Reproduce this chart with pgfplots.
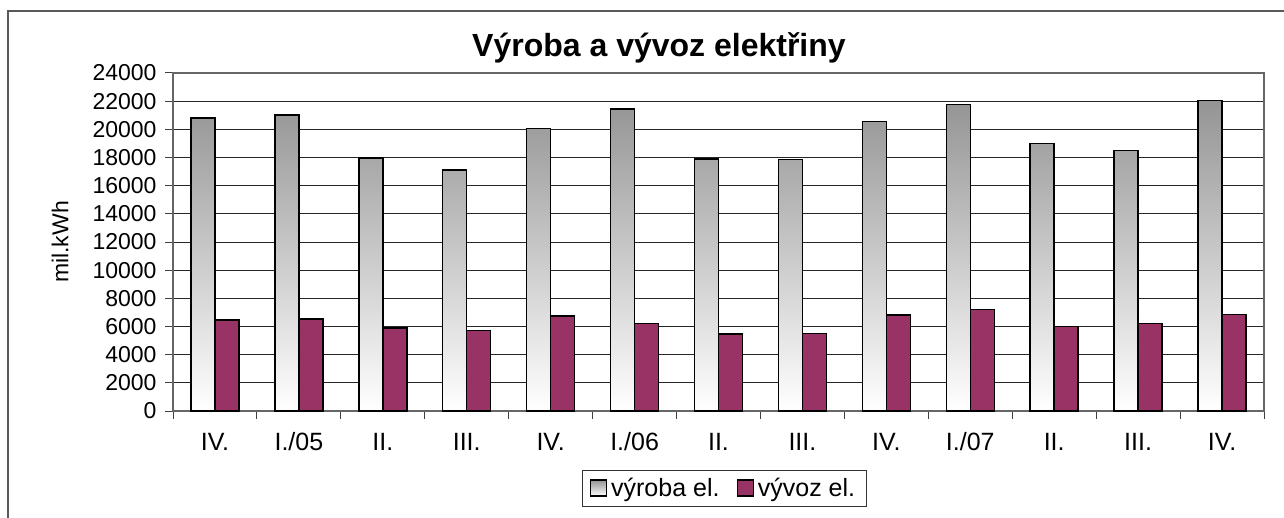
\documentclass[border=0pt]{standalone}
\usepackage{fontspec}
\setmainfont{Liberation Sans}
\usepackage{pgfplots}
\pgfplotsset{compat=1.18}
\definecolor{plum}{HTML}{993366}
\pgfplotstableread{
x vyroba vyvoz
0 20800 6450
1 21000 6550
2 17950 5900
3 17100 5700
4 20050 6750
5 21450 6200
6 17900 5450
7 17850 5500
8 20550 6800
9 21750 7200
10 19000 6000
11 18500 6200
12 22050 6850
}\datatable
\begin{document}
\begin{tikzpicture}[x=1pt,y=1pt]
\useasboundingbox (0,0) rectangle (1284,-518);
\draw[black!65, line width=1.5pt] (8,-11) rectangle (1300,-540);
\node[font=\fontsize{32}{38}\selectfont\bfseries, anchor=base] at (659,-57) {Výroba a vývoz elektřiny};
\begin{axis}[
 at={(173pt,-411pt)}, anchor=south west,
 scale only axis, width=1091pt, height=338pt,
 ymin=0, ymax=24000, ytick={0,2000,...,24000},
 scaled y ticks=false,
 xmin=-0.5, xmax=12.5,
 xtick={-0.5,0.5,1.5,2.5,3.5,4.5,5.5,6.5,7.5,8.5,9.5,10.5,11.5,12.5},
 x tick label as interval,
 xticklabels={IV.,I./05,II.,III.,IV.,I./06,II.,III.,IV.,I./07,II.,III.,IV.},
 /pgf/number format/assume math mode=true,
 /pgf/number format/1000 sep={},
 tick pos=left,
 yticklabel style={font=\fontsize{23}{27}\selectfont, xshift=-5pt},
 xticklabel style={font=\fontsize{25}{28}\selectfont, text height=17.5pt, text depth=5pt, yshift=-10pt},
 tick align=outside,
 major tick length=8pt,
 tick style={black!75, line width=1pt},
 axis line style={black!60, line width=1.3pt},
 ymajorgrids,
 major grid style={black!85, line width=1pt},
 ylabel={mil.kWh},
 ylabel style={font=\fontsize{23}{27}\selectfont, at={(axis description cs:-0.1036,0.5)}, anchor=center},
 ybar=0pt, bar width=24pt,
 legend columns=2,
 legend image code/.code={\draw[#1, line width=1.3pt] (0pt,-8pt) rectangle (16pt,8pt);},
 legend style={at={(axis description cs:0.5055,-0.228)}, anchor=center, draw=black!80, line width=1pt,
   font=\fontsize{25}{28}\selectfont, inner xsep=7pt, inner ysep=6pt,
   /tikz/every even column/.append style={column sep=13pt},
   nodes={inner xsep=4pt}},
]
\addplot[draw=black, line width=1.5pt, top color=black!42, bottom color=white] table[x=x, y=vyroba] {\datatable};
\addplot[draw=black, line width=1.5pt, fill=plum] table[x=x, y=vyvoz] {\datatable};
\legend{výroba el.,vývoz el.}
\end{axis}
\end{tikzpicture}
\end{document}
